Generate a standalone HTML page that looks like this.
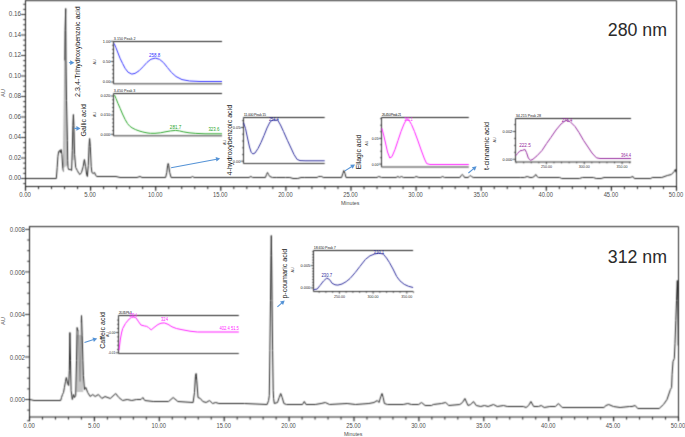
<!DOCTYPE html>
<html><head><meta charset="utf-8"><title>HPLC chromatograms</title>
<style>html,body{margin:0;padding:0;background:#fff;width:685px;height:437px;overflow:hidden;font-family:"Liberation Sans",sans-serif}</style>
</head><body>
<svg width="685" height="437" viewBox="0 0 685 437" style="position:absolute;left:0;top:0">
<defs><filter id="soft" x="0" y="0" width="685" height="437" filterUnits="userSpaceOnUse" color-interpolation-filters="sRGB"><feConvolveMatrix order="3" kernelMatrix="0.03607 0.11778 0.03607 0.11778 0.38462 0.11778 0.03607 0.11778 0.03607" divisor="1" edgeMode="none"/></filter><filter id="soft2" x="0" y="0" width="685" height="437" filterUnits="userSpaceOnUse" color-interpolation-filters="sRGB"><feConvolveMatrix order="3" kernelMatrix="0.01917 0.10012 0.01917 0.10012 0.52283 0.10012 0.01917 0.10012 0.01917" divisor="1" edgeMode="none"/></filter></defs>
<rect width="685" height="437" fill="#fff"/>
<g filter="url(#soft)">
<line x1="25.50" y1="0.60" x2="676.50" y2="0.60" stroke="#1c1c1c" stroke-width="1.00"/>
<line x1="676.50" y1="0.60" x2="676.50" y2="190.50" stroke="#262626" stroke-width="1.00"/>
<line x1="25.50" y1="0.10" x2="25.50" y2="190.50" stroke="#1c1c1c" stroke-width="1.00"/>
<line x1="25.50" y1="186.50" x2="676.50" y2="186.50" stroke="#1c1c1c" stroke-width="1.00"/>
<line x1="23.20" y1="183.62" x2="25.50" y2="183.62" stroke="#1c1c1c" stroke-width="0.90"/>
<line x1="23.20" y1="173.38" x2="25.50" y2="173.38" stroke="#1c1c1c" stroke-width="0.90"/>
<line x1="23.20" y1="168.25" x2="25.50" y2="168.25" stroke="#1c1c1c" stroke-width="0.90"/>
<line x1="23.20" y1="163.12" x2="25.50" y2="163.12" stroke="#1c1c1c" stroke-width="0.90"/>
<line x1="23.20" y1="152.88" x2="25.50" y2="152.88" stroke="#1c1c1c" stroke-width="0.90"/>
<line x1="23.20" y1="147.75" x2="25.50" y2="147.75" stroke="#1c1c1c" stroke-width="0.90"/>
<line x1="23.20" y1="142.62" x2="25.50" y2="142.62" stroke="#1c1c1c" stroke-width="0.90"/>
<line x1="23.20" y1="132.38" x2="25.50" y2="132.38" stroke="#1c1c1c" stroke-width="0.90"/>
<line x1="23.20" y1="127.25" x2="25.50" y2="127.25" stroke="#1c1c1c" stroke-width="0.90"/>
<line x1="23.20" y1="122.12" x2="25.50" y2="122.12" stroke="#1c1c1c" stroke-width="0.90"/>
<line x1="23.20" y1="111.88" x2="25.50" y2="111.88" stroke="#1c1c1c" stroke-width="0.90"/>
<line x1="23.20" y1="106.75" x2="25.50" y2="106.75" stroke="#1c1c1c" stroke-width="0.90"/>
<line x1="23.20" y1="101.62" x2="25.50" y2="101.62" stroke="#1c1c1c" stroke-width="0.90"/>
<line x1="23.20" y1="91.38" x2="25.50" y2="91.38" stroke="#1c1c1c" stroke-width="0.90"/>
<line x1="23.20" y1="86.25" x2="25.50" y2="86.25" stroke="#1c1c1c" stroke-width="0.90"/>
<line x1="23.20" y1="81.12" x2="25.50" y2="81.12" stroke="#1c1c1c" stroke-width="0.90"/>
<line x1="23.20" y1="70.88" x2="25.50" y2="70.88" stroke="#1c1c1c" stroke-width="0.90"/>
<line x1="23.20" y1="65.75" x2="25.50" y2="65.75" stroke="#1c1c1c" stroke-width="0.90"/>
<line x1="23.20" y1="60.62" x2="25.50" y2="60.62" stroke="#1c1c1c" stroke-width="0.90"/>
<line x1="23.20" y1="50.38" x2="25.50" y2="50.38" stroke="#1c1c1c" stroke-width="0.90"/>
<line x1="23.20" y1="45.25" x2="25.50" y2="45.25" stroke="#1c1c1c" stroke-width="0.90"/>
<line x1="23.20" y1="40.12" x2="25.50" y2="40.12" stroke="#1c1c1c" stroke-width="0.90"/>
<line x1="23.20" y1="29.88" x2="25.50" y2="29.88" stroke="#1c1c1c" stroke-width="0.90"/>
<line x1="23.20" y1="24.75" x2="25.50" y2="24.75" stroke="#1c1c1c" stroke-width="0.90"/>
<line x1="23.20" y1="19.62" x2="25.50" y2="19.62" stroke="#1c1c1c" stroke-width="0.90"/>
<line x1="23.20" y1="9.38" x2="25.50" y2="9.38" stroke="#1c1c1c" stroke-width="0.90"/>
<line x1="23.20" y1="4.25" x2="25.50" y2="4.25" stroke="#1c1c1c" stroke-width="0.90"/>
<line x1="20.90" y1="178.50" x2="25.50" y2="178.50" stroke="#1c1c1c" stroke-width="0.90"/>
<line x1="20.90" y1="158.00" x2="25.50" y2="158.00" stroke="#1c1c1c" stroke-width="0.90"/>
<line x1="20.90" y1="137.50" x2="25.50" y2="137.50" stroke="#1c1c1c" stroke-width="0.90"/>
<line x1="20.90" y1="117.00" x2="25.50" y2="117.00" stroke="#1c1c1c" stroke-width="0.90"/>
<line x1="20.90" y1="96.50" x2="25.50" y2="96.50" stroke="#1c1c1c" stroke-width="0.90"/>
<line x1="20.90" y1="76.00" x2="25.50" y2="76.00" stroke="#1c1c1c" stroke-width="0.90"/>
<line x1="20.90" y1="55.50" x2="25.50" y2="55.50" stroke="#1c1c1c" stroke-width="0.90"/>
<line x1="20.90" y1="35.00" x2="25.50" y2="35.00" stroke="#1c1c1c" stroke-width="0.90"/>
<line x1="20.90" y1="14.50" x2="25.50" y2="14.50" stroke="#1c1c1c" stroke-width="0.90"/>
<line x1="25.50" y1="186.50" x2="25.50" y2="190.70" stroke="#111" stroke-width="1.10"/>
<line x1="38.52" y1="186.50" x2="38.52" y2="189.10" stroke="#222" stroke-width="1.00"/>
<line x1="51.54" y1="186.50" x2="51.54" y2="189.10" stroke="#222" stroke-width="1.00"/>
<line x1="64.56" y1="186.50" x2="64.56" y2="189.10" stroke="#222" stroke-width="1.00"/>
<line x1="77.58" y1="186.50" x2="77.58" y2="189.10" stroke="#222" stroke-width="1.00"/>
<line x1="90.60" y1="186.50" x2="90.60" y2="190.70" stroke="#111" stroke-width="1.10"/>
<line x1="103.62" y1="186.50" x2="103.62" y2="189.10" stroke="#222" stroke-width="1.00"/>
<line x1="116.64" y1="186.50" x2="116.64" y2="189.10" stroke="#222" stroke-width="1.00"/>
<line x1="129.66" y1="186.50" x2="129.66" y2="189.10" stroke="#222" stroke-width="1.00"/>
<line x1="142.68" y1="186.50" x2="142.68" y2="189.10" stroke="#222" stroke-width="1.00"/>
<line x1="155.70" y1="186.50" x2="155.70" y2="190.70" stroke="#111" stroke-width="1.10"/>
<line x1="168.72" y1="186.50" x2="168.72" y2="189.10" stroke="#222" stroke-width="1.00"/>
<line x1="181.74" y1="186.50" x2="181.74" y2="189.10" stroke="#222" stroke-width="1.00"/>
<line x1="194.76" y1="186.50" x2="194.76" y2="189.10" stroke="#222" stroke-width="1.00"/>
<line x1="207.78" y1="186.50" x2="207.78" y2="189.10" stroke="#222" stroke-width="1.00"/>
<line x1="220.80" y1="186.50" x2="220.80" y2="190.70" stroke="#111" stroke-width="1.10"/>
<line x1="233.82" y1="186.50" x2="233.82" y2="189.10" stroke="#222" stroke-width="1.00"/>
<line x1="246.84" y1="186.50" x2="246.84" y2="189.10" stroke="#222" stroke-width="1.00"/>
<line x1="259.86" y1="186.50" x2="259.86" y2="189.10" stroke="#222" stroke-width="1.00"/>
<line x1="272.88" y1="186.50" x2="272.88" y2="189.10" stroke="#222" stroke-width="1.00"/>
<line x1="285.90" y1="186.50" x2="285.90" y2="190.70" stroke="#111" stroke-width="1.10"/>
<line x1="298.92" y1="186.50" x2="298.92" y2="189.10" stroke="#222" stroke-width="1.00"/>
<line x1="311.94" y1="186.50" x2="311.94" y2="189.10" stroke="#222" stroke-width="1.00"/>
<line x1="324.96" y1="186.50" x2="324.96" y2="189.10" stroke="#222" stroke-width="1.00"/>
<line x1="337.98" y1="186.50" x2="337.98" y2="189.10" stroke="#222" stroke-width="1.00"/>
<line x1="351.00" y1="186.50" x2="351.00" y2="190.70" stroke="#111" stroke-width="1.10"/>
<line x1="364.02" y1="186.50" x2="364.02" y2="189.10" stroke="#222" stroke-width="1.00"/>
<line x1="377.04" y1="186.50" x2="377.04" y2="189.10" stroke="#222" stroke-width="1.00"/>
<line x1="390.06" y1="186.50" x2="390.06" y2="189.10" stroke="#222" stroke-width="1.00"/>
<line x1="403.08" y1="186.50" x2="403.08" y2="189.10" stroke="#222" stroke-width="1.00"/>
<line x1="416.10" y1="186.50" x2="416.10" y2="190.70" stroke="#111" stroke-width="1.10"/>
<line x1="429.12" y1="186.50" x2="429.12" y2="189.10" stroke="#222" stroke-width="1.00"/>
<line x1="442.14" y1="186.50" x2="442.14" y2="189.10" stroke="#222" stroke-width="1.00"/>
<line x1="455.16" y1="186.50" x2="455.16" y2="189.10" stroke="#222" stroke-width="1.00"/>
<line x1="468.18" y1="186.50" x2="468.18" y2="189.10" stroke="#222" stroke-width="1.00"/>
<line x1="481.20" y1="186.50" x2="481.20" y2="190.70" stroke="#111" stroke-width="1.10"/>
<line x1="494.22" y1="186.50" x2="494.22" y2="189.10" stroke="#222" stroke-width="1.00"/>
<line x1="507.24" y1="186.50" x2="507.24" y2="189.10" stroke="#222" stroke-width="1.00"/>
<line x1="520.26" y1="186.50" x2="520.26" y2="189.10" stroke="#222" stroke-width="1.00"/>
<line x1="533.28" y1="186.50" x2="533.28" y2="189.10" stroke="#222" stroke-width="1.00"/>
<line x1="546.30" y1="186.50" x2="546.30" y2="190.70" stroke="#111" stroke-width="1.10"/>
<line x1="559.32" y1="186.50" x2="559.32" y2="189.10" stroke="#222" stroke-width="1.00"/>
<line x1="572.34" y1="186.50" x2="572.34" y2="189.10" stroke="#222" stroke-width="1.00"/>
<line x1="585.36" y1="186.50" x2="585.36" y2="189.10" stroke="#222" stroke-width="1.00"/>
<line x1="598.38" y1="186.50" x2="598.38" y2="189.10" stroke="#222" stroke-width="1.00"/>
<line x1="611.40" y1="186.50" x2="611.40" y2="190.70" stroke="#111" stroke-width="1.10"/>
<line x1="624.42" y1="186.50" x2="624.42" y2="189.10" stroke="#222" stroke-width="1.00"/>
<line x1="637.44" y1="186.50" x2="637.44" y2="189.10" stroke="#222" stroke-width="1.00"/>
<line x1="650.46" y1="186.50" x2="650.46" y2="189.10" stroke="#222" stroke-width="1.00"/>
<line x1="663.48" y1="186.50" x2="663.48" y2="189.10" stroke="#222" stroke-width="1.00"/>
<line x1="676.50" y1="186.50" x2="676.50" y2="190.70" stroke="#111" stroke-width="1.10"/>
<polygon points="63.6,168 63.8,140 64.3,100 64.8,60 66.0,60 66.5,100 67.4,140 67.7,165" fill="#c8c8c8"/>
<polygon points="72.4,160 72.8,132 74.2,132 74.6,160" fill="#dcdcdc"/>
<polyline points="25.5,178.5 56.3,178.5 57.2,167.5 57.9,156.5 58.7,151.5 59.5,150.5 60.4,152.5 61.1,149.5 61.9,154.5 62.8,168.5 63.5,171.5" fill="none" stroke="#1e1e1e" stroke-width="1.0" stroke-linejoin="round"/>
<polyline points="63.5,171.5 63.8,140.5 64.3,100.5 64.8,60.5" fill="none" stroke="#9a9a9a" stroke-width="0.8" stroke-linejoin="round"/>
<polyline points="64.8,60.5 65.1,30.5 65.7,8.5 65.8,30.5 66.0,60.5 66.5,100.5 67.4,140.5 67.7,160.5 68.0,167.5 68.7,169.5 70.3,169.5 71.6,170.5 72.3,150.5 72.9,125.5 73.4,114.5 73.9,125.5 74.6,154.5 75.7,167.5 77.3,170.5 78.9,173.5 80.0,174.5 81.5,172.5 83.2,166.5 84.4,159.5 85.6,166.5 86.6,174.5 87.4,176.5 88.3,165.5 89.0,146.5 89.6,138.5 90.3,146.5 91.2,166.5 91.9,172.5 93.2,173.5 94.6,172.5 95.7,175.5 97.0,176.5 100.0,176.5 105.0,176.5 110.0,176.5 114.0,176.5 116.0,176.5 120.0,177.5 130.0,177.5 137.0,177.5 140.0,176.5 142.0,177.5 150.0,177.5 160.0,177.5 165.6,177.5 166.8,172.5 167.6,165.5 168.2,163.5 168.8,165.5 169.7,172.5 171.1,177.5 180.0,177.5 191.0,177.5 192.5,176.5 194.0,177.5 230.0,177.5 249.0,177.5 250.9,176.5 252.6,177.5 265.4,177.5 266.5,174.5 267.5,172.5 268.5,174.5 269.8,176.5 272.4,177.5 276.8,177.5 280.0,177.5 285.5,177.5 289.9,177.5 293.0,178.5 297.8,178.5 301.0,177.5 304.8,177.5 317.1,177.5 318.7,176.5 320.2,176.5 321.8,176.5 323.2,177.5 341.6,177.5 342.8,173.5 343.9,170.5 345.0,173.5 346.0,177.5 375.1,177.5 377.0,177.5 378.7,176.5 381.5,177.5 396.1,177.5 397.9,176.5 399.4,177.5 401.5,176.5 403.4,177.5 414.3,177.5 416.1,176.5 418.9,177.5 440.8,177.5 442.6,176.5 444.4,177.5 459.9,177.5 461.2,175.5 462.3,174.5 463.4,175.5 464.5,177.5 468.1,177.5 469.3,176.5 470.3,175.5 471.5,176.5 473.2,177.5 520.3,177.5 524.3,177.5 527.2,176.5 530.0,177.5 532.2,177.5 534.3,176.5 535.7,174.5 537.1,176.5 538.5,177.5 559.7,177.5 561.7,178.5 579.5,178.5 582.4,177.5 593.3,177.5 596.2,178.5 601.1,178.5 604.0,177.5 630.2,177.5 633.0,176.5 634.3,178.5 650.8,178.5 652.2,177.5 661.8,177.5 667.3,175.5 671.4,174.5 674.2,171.5 675.3,169.5 676.2,172.5" fill="none" stroke="#1e1e1e" stroke-width="1.0" stroke-linejoin="round"/>
<line x1="113.50" y1="41.50" x2="222.00" y2="41.50" stroke="#1a1a1a" stroke-width="1.00"/>
<line x1="113.50" y1="41.50" x2="113.50" y2="83.80" stroke="#333333" stroke-width="1.00"/>
<line x1="113.50" y1="83.80" x2="222.00" y2="83.80" stroke="#333333" stroke-width="1.00"/>
<line x1="112.20" y1="45.30" x2="113.50" y2="45.30" stroke="#111" stroke-width="0.80"/>
<line x1="112.20" y1="49.40" x2="113.50" y2="49.40" stroke="#111" stroke-width="0.80"/>
<line x1="112.20" y1="53.50" x2="113.50" y2="53.50" stroke="#111" stroke-width="0.80"/>
<line x1="112.20" y1="57.50" x2="113.50" y2="57.50" stroke="#111" stroke-width="0.80"/>
<line x1="112.20" y1="65.60" x2="113.50" y2="65.60" stroke="#111" stroke-width="0.80"/>
<line x1="112.20" y1="69.70" x2="113.50" y2="69.70" stroke="#111" stroke-width="0.80"/>
<line x1="112.20" y1="73.80" x2="113.50" y2="73.80" stroke="#111" stroke-width="0.80"/>
<line x1="112.20" y1="77.90" x2="113.50" y2="77.90" stroke="#111" stroke-width="0.80"/>
<line x1="110.50" y1="41.30" x2="113.50" y2="41.30" stroke="#222" stroke-width="0.80"/>
<line x1="110.50" y1="61.50" x2="113.50" y2="61.50" stroke="#222" stroke-width="0.80"/>
<line x1="110.50" y1="82.00" x2="113.50" y2="82.00" stroke="#222" stroke-width="0.80"/>
<line x1="113.50" y1="93.50" x2="222.00" y2="93.50" stroke="#1a1a1a" stroke-width="1.00"/>
<line x1="113.50" y1="93.50" x2="113.50" y2="135.80" stroke="#333333" stroke-width="1.00"/>
<line x1="113.50" y1="135.80" x2="222.00" y2="135.80" stroke="#333333" stroke-width="1.00"/>
<line x1="112.20" y1="99.80" x2="113.50" y2="99.80" stroke="#111" stroke-width="0.80"/>
<line x1="112.20" y1="103.70" x2="113.50" y2="103.70" stroke="#111" stroke-width="0.80"/>
<line x1="112.20" y1="107.50" x2="113.50" y2="107.50" stroke="#111" stroke-width="0.80"/>
<line x1="112.20" y1="111.40" x2="113.50" y2="111.40" stroke="#111" stroke-width="0.80"/>
<line x1="112.20" y1="119.00" x2="113.50" y2="119.00" stroke="#111" stroke-width="0.80"/>
<line x1="112.20" y1="122.90" x2="113.50" y2="122.90" stroke="#111" stroke-width="0.80"/>
<line x1="112.20" y1="126.70" x2="113.50" y2="126.70" stroke="#111" stroke-width="0.80"/>
<line x1="112.20" y1="130.60" x2="113.50" y2="130.60" stroke="#111" stroke-width="0.80"/>
<line x1="110.50" y1="96.00" x2="113.50" y2="96.00" stroke="#222" stroke-width="0.80"/>
<line x1="110.50" y1="115.00" x2="113.50" y2="115.00" stroke="#222" stroke-width="0.80"/>
<line x1="110.50" y1="134.30" x2="113.50" y2="134.30" stroke="#222" stroke-width="0.80"/>
<line x1="243.50" y1="117.50" x2="324.70" y2="117.50" stroke="#1a1a1a" stroke-width="1.00"/>
<line x1="243.50" y1="117.50" x2="243.50" y2="163.50" stroke="#333333" stroke-width="1.00"/>
<line x1="243.50" y1="163.50" x2="324.70" y2="163.50" stroke="#333333" stroke-width="1.00"/>
<line x1="242.20" y1="120.60" x2="243.50" y2="120.60" stroke="#111" stroke-width="0.80"/>
<line x1="242.20" y1="134.20" x2="243.50" y2="134.20" stroke="#111" stroke-width="0.80"/>
<line x1="242.20" y1="141.00" x2="243.50" y2="141.00" stroke="#111" stroke-width="0.80"/>
<line x1="242.20" y1="147.80" x2="243.50" y2="147.80" stroke="#111" stroke-width="0.80"/>
<line x1="242.20" y1="154.60" x2="243.50" y2="154.60" stroke="#111" stroke-width="0.80"/>
<line x1="240.50" y1="127.50" x2="243.50" y2="127.50" stroke="#222" stroke-width="0.80"/>
<line x1="240.50" y1="161.20" x2="243.50" y2="161.20" stroke="#222" stroke-width="0.80"/>
<line x1="381.50" y1="117.50" x2="468.80" y2="117.50" stroke="#1a1a1a" stroke-width="1.00"/>
<line x1="381.50" y1="117.50" x2="381.50" y2="167.00" stroke="#333333" stroke-width="1.00"/>
<line x1="381.50" y1="167.00" x2="468.80" y2="167.00" stroke="#333333" stroke-width="1.00"/>
<line x1="380.20" y1="118.60" x2="381.50" y2="118.60" stroke="#111" stroke-width="0.80"/>
<line x1="380.20" y1="125.20" x2="381.50" y2="125.20" stroke="#111" stroke-width="0.80"/>
<line x1="380.20" y1="131.70" x2="381.50" y2="131.70" stroke="#111" stroke-width="0.80"/>
<line x1="380.20" y1="144.70" x2="381.50" y2="144.70" stroke="#111" stroke-width="0.80"/>
<line x1="380.20" y1="151.20" x2="381.50" y2="151.20" stroke="#111" stroke-width="0.80"/>
<line x1="380.20" y1="157.70" x2="381.50" y2="157.70" stroke="#111" stroke-width="0.80"/>
<line x1="378.50" y1="138.40" x2="381.50" y2="138.40" stroke="#222" stroke-width="0.80"/>
<line x1="378.50" y1="164.10" x2="381.50" y2="164.10" stroke="#222" stroke-width="0.80"/>
<line x1="515.50" y1="118.50" x2="631.00" y2="118.50" stroke="#1a1a1a" stroke-width="1.00"/>
<line x1="515.50" y1="118.50" x2="515.50" y2="162.00" stroke="#333333" stroke-width="1.00"/>
<line x1="515.50" y1="162.00" x2="631.00" y2="162.00" stroke="#333333" stroke-width="1.00"/>
<line x1="514.20" y1="124.60" x2="515.50" y2="124.60" stroke="#111" stroke-width="0.80"/>
<line x1="514.20" y1="138.40" x2="515.50" y2="138.40" stroke="#111" stroke-width="0.80"/>
<line x1="514.20" y1="145.40" x2="515.50" y2="145.40" stroke="#111" stroke-width="0.80"/>
<line x1="514.20" y1="152.30" x2="515.50" y2="152.30" stroke="#111" stroke-width="0.80"/>
<line x1="512.50" y1="131.50" x2="515.50" y2="131.50" stroke="#222" stroke-width="0.80"/>
<line x1="512.50" y1="159.30" x2="515.50" y2="159.30" stroke="#222" stroke-width="0.80"/>
<line x1="516.12" y1="162.00" x2="516.12" y2="163.30" stroke="#222" stroke-width="0.80"/>
<line x1="523.69" y1="162.00" x2="523.69" y2="163.30" stroke="#222" stroke-width="0.80"/>
<line x1="531.26" y1="162.00" x2="531.26" y2="163.30" stroke="#222" stroke-width="0.80"/>
<line x1="538.83" y1="162.00" x2="538.83" y2="163.30" stroke="#222" stroke-width="0.80"/>
<line x1="546.40" y1="162.00" x2="546.40" y2="164.20" stroke="#222" stroke-width="0.80"/>
<line x1="553.97" y1="162.00" x2="553.97" y2="163.30" stroke="#222" stroke-width="0.80"/>
<line x1="561.54" y1="162.00" x2="561.54" y2="163.30" stroke="#222" stroke-width="0.80"/>
<line x1="569.11" y1="162.00" x2="569.11" y2="163.30" stroke="#222" stroke-width="0.80"/>
<line x1="576.68" y1="162.00" x2="576.68" y2="163.30" stroke="#222" stroke-width="0.80"/>
<line x1="584.25" y1="162.00" x2="584.25" y2="164.20" stroke="#222" stroke-width="0.80"/>
<line x1="591.82" y1="162.00" x2="591.82" y2="163.30" stroke="#222" stroke-width="0.80"/>
<line x1="599.39" y1="162.00" x2="599.39" y2="163.30" stroke="#222" stroke-width="0.80"/>
<line x1="606.96" y1="162.00" x2="606.96" y2="163.30" stroke="#222" stroke-width="0.80"/>
<line x1="614.53" y1="162.00" x2="614.53" y2="163.30" stroke="#222" stroke-width="0.80"/>
<line x1="622.10" y1="162.00" x2="622.10" y2="164.20" stroke="#222" stroke-width="0.80"/>
<line x1="629.67" y1="162.00" x2="629.67" y2="163.30" stroke="#222" stroke-width="0.80"/>
<line x1="29.50" y1="226.60" x2="678.50" y2="226.60" stroke="#1c1c1c" stroke-width="1.00"/>
<line x1="678.50" y1="226.60" x2="678.50" y2="421.00" stroke="#262626" stroke-width="1.00"/>
<line x1="29.50" y1="226.10" x2="29.50" y2="421.00" stroke="#1c1c1c" stroke-width="1.00"/>
<line x1="29.50" y1="417.00" x2="678.50" y2="417.00" stroke="#1c1c1c" stroke-width="1.00"/>
<line x1="27.20" y1="420.76" x2="29.50" y2="420.76" stroke="#1c1c1c" stroke-width="0.90"/>
<line x1="27.20" y1="410.13" x2="29.50" y2="410.13" stroke="#1c1c1c" stroke-width="0.90"/>
<line x1="27.20" y1="388.87" x2="29.50" y2="388.87" stroke="#1c1c1c" stroke-width="0.90"/>
<line x1="27.20" y1="378.24" x2="29.50" y2="378.24" stroke="#1c1c1c" stroke-width="0.90"/>
<line x1="27.20" y1="367.61" x2="29.50" y2="367.61" stroke="#1c1c1c" stroke-width="0.90"/>
<line x1="27.20" y1="346.34" x2="29.50" y2="346.34" stroke="#1c1c1c" stroke-width="0.90"/>
<line x1="27.20" y1="335.71" x2="29.50" y2="335.71" stroke="#1c1c1c" stroke-width="0.90"/>
<line x1="27.20" y1="325.08" x2="29.50" y2="325.08" stroke="#1c1c1c" stroke-width="0.90"/>
<line x1="27.20" y1="303.82" x2="29.50" y2="303.82" stroke="#1c1c1c" stroke-width="0.90"/>
<line x1="27.20" y1="293.19" x2="29.50" y2="293.19" stroke="#1c1c1c" stroke-width="0.90"/>
<line x1="27.20" y1="282.55" x2="29.50" y2="282.55" stroke="#1c1c1c" stroke-width="0.90"/>
<line x1="27.20" y1="261.29" x2="29.50" y2="261.29" stroke="#1c1c1c" stroke-width="0.90"/>
<line x1="27.20" y1="250.66" x2="29.50" y2="250.66" stroke="#1c1c1c" stroke-width="0.90"/>
<line x1="27.20" y1="240.03" x2="29.50" y2="240.03" stroke="#1c1c1c" stroke-width="0.90"/>
<line x1="24.90" y1="399.50" x2="29.50" y2="399.50" stroke="#1c1c1c" stroke-width="0.90"/>
<line x1="24.90" y1="356.97" x2="29.50" y2="356.97" stroke="#1c1c1c" stroke-width="0.90"/>
<line x1="24.90" y1="314.45" x2="29.50" y2="314.45" stroke="#1c1c1c" stroke-width="0.90"/>
<line x1="24.90" y1="271.92" x2="29.50" y2="271.92" stroke="#1c1c1c" stroke-width="0.90"/>
<line x1="24.90" y1="229.40" x2="29.50" y2="229.40" stroke="#1c1c1c" stroke-width="0.90"/>
<line x1="29.50" y1="417.00" x2="29.50" y2="421.20" stroke="#111" stroke-width="1.10"/>
<line x1="42.48" y1="417.00" x2="42.48" y2="419.60" stroke="#222" stroke-width="1.00"/>
<line x1="55.46" y1="417.00" x2="55.46" y2="419.60" stroke="#222" stroke-width="1.00"/>
<line x1="68.44" y1="417.00" x2="68.44" y2="419.60" stroke="#222" stroke-width="1.00"/>
<line x1="81.42" y1="417.00" x2="81.42" y2="419.60" stroke="#222" stroke-width="1.00"/>
<line x1="94.40" y1="417.00" x2="94.40" y2="421.20" stroke="#111" stroke-width="1.10"/>
<line x1="107.38" y1="417.00" x2="107.38" y2="419.60" stroke="#222" stroke-width="1.00"/>
<line x1="120.36" y1="417.00" x2="120.36" y2="419.60" stroke="#222" stroke-width="1.00"/>
<line x1="133.34" y1="417.00" x2="133.34" y2="419.60" stroke="#222" stroke-width="1.00"/>
<line x1="146.32" y1="417.00" x2="146.32" y2="419.60" stroke="#222" stroke-width="1.00"/>
<line x1="159.30" y1="417.00" x2="159.30" y2="421.20" stroke="#111" stroke-width="1.10"/>
<line x1="172.28" y1="417.00" x2="172.28" y2="419.60" stroke="#222" stroke-width="1.00"/>
<line x1="185.26" y1="417.00" x2="185.26" y2="419.60" stroke="#222" stroke-width="1.00"/>
<line x1="198.24" y1="417.00" x2="198.24" y2="419.60" stroke="#222" stroke-width="1.00"/>
<line x1="211.22" y1="417.00" x2="211.22" y2="419.60" stroke="#222" stroke-width="1.00"/>
<line x1="224.20" y1="417.00" x2="224.20" y2="421.20" stroke="#111" stroke-width="1.10"/>
<line x1="237.18" y1="417.00" x2="237.18" y2="419.60" stroke="#222" stroke-width="1.00"/>
<line x1="250.16" y1="417.00" x2="250.16" y2="419.60" stroke="#222" stroke-width="1.00"/>
<line x1="263.14" y1="417.00" x2="263.14" y2="419.60" stroke="#222" stroke-width="1.00"/>
<line x1="276.12" y1="417.00" x2="276.12" y2="419.60" stroke="#222" stroke-width="1.00"/>
<line x1="289.10" y1="417.00" x2="289.10" y2="421.20" stroke="#111" stroke-width="1.10"/>
<line x1="302.08" y1="417.00" x2="302.08" y2="419.60" stroke="#222" stroke-width="1.00"/>
<line x1="315.06" y1="417.00" x2="315.06" y2="419.60" stroke="#222" stroke-width="1.00"/>
<line x1="328.04" y1="417.00" x2="328.04" y2="419.60" stroke="#222" stroke-width="1.00"/>
<line x1="341.02" y1="417.00" x2="341.02" y2="419.60" stroke="#222" stroke-width="1.00"/>
<line x1="354.00" y1="417.00" x2="354.00" y2="421.20" stroke="#111" stroke-width="1.10"/>
<line x1="366.98" y1="417.00" x2="366.98" y2="419.60" stroke="#222" stroke-width="1.00"/>
<line x1="379.96" y1="417.00" x2="379.96" y2="419.60" stroke="#222" stroke-width="1.00"/>
<line x1="392.94" y1="417.00" x2="392.94" y2="419.60" stroke="#222" stroke-width="1.00"/>
<line x1="405.92" y1="417.00" x2="405.92" y2="419.60" stroke="#222" stroke-width="1.00"/>
<line x1="418.90" y1="417.00" x2="418.90" y2="421.20" stroke="#111" stroke-width="1.10"/>
<line x1="431.88" y1="417.00" x2="431.88" y2="419.60" stroke="#222" stroke-width="1.00"/>
<line x1="444.86" y1="417.00" x2="444.86" y2="419.60" stroke="#222" stroke-width="1.00"/>
<line x1="457.84" y1="417.00" x2="457.84" y2="419.60" stroke="#222" stroke-width="1.00"/>
<line x1="470.82" y1="417.00" x2="470.82" y2="419.60" stroke="#222" stroke-width="1.00"/>
<line x1="483.80" y1="417.00" x2="483.80" y2="421.20" stroke="#111" stroke-width="1.10"/>
<line x1="496.78" y1="417.00" x2="496.78" y2="419.60" stroke="#222" stroke-width="1.00"/>
<line x1="509.76" y1="417.00" x2="509.76" y2="419.60" stroke="#222" stroke-width="1.00"/>
<line x1="522.74" y1="417.00" x2="522.74" y2="419.60" stroke="#222" stroke-width="1.00"/>
<line x1="535.72" y1="417.00" x2="535.72" y2="419.60" stroke="#222" stroke-width="1.00"/>
<line x1="548.70" y1="417.00" x2="548.70" y2="421.20" stroke="#111" stroke-width="1.10"/>
<line x1="561.68" y1="417.00" x2="561.68" y2="419.60" stroke="#222" stroke-width="1.00"/>
<line x1="574.66" y1="417.00" x2="574.66" y2="419.60" stroke="#222" stroke-width="1.00"/>
<line x1="587.64" y1="417.00" x2="587.64" y2="419.60" stroke="#222" stroke-width="1.00"/>
<line x1="600.62" y1="417.00" x2="600.62" y2="419.60" stroke="#222" stroke-width="1.00"/>
<line x1="613.60" y1="417.00" x2="613.60" y2="421.20" stroke="#111" stroke-width="1.10"/>
<line x1="626.58" y1="417.00" x2="626.58" y2="419.60" stroke="#222" stroke-width="1.00"/>
<line x1="639.56" y1="417.00" x2="639.56" y2="419.60" stroke="#222" stroke-width="1.00"/>
<line x1="652.54" y1="417.00" x2="652.54" y2="419.60" stroke="#222" stroke-width="1.00"/>
<line x1="665.52" y1="417.00" x2="665.52" y2="419.60" stroke="#222" stroke-width="1.00"/>
<line x1="678.50" y1="417.00" x2="678.50" y2="421.20" stroke="#111" stroke-width="1.10"/>
<polygon points="76.5,392 76.9,335 82.3,335 83.3,392" fill="#c6c6c6"/>
<polyline points="29.8,399.5 34.0,400.5 47.0,400.5 50.0,400.5 56.0,400.5 60.7,400.5 61.5,397.5 62.5,394.5 63.5,392.5 64.4,387.5 65.5,381.5 66.3,377.5 67.6,383.5 68.6,385.5 69.3,370.5 69.9,332.5 70.5,360.5 71.1,390.5 72.3,399.5 73.6,394.5 74.5,397.5 75.7,395.5 76.5,360.5 77.1,327.5 77.8,330.5 78.4,330.5" fill="none" stroke="#1e1e1e" stroke-width="1.0" stroke-linejoin="round"/>
<polyline points="78.4,330.5 79.2,360.5 80.1,381.5 80.8,345.5 81.3,322.5" fill="none" stroke="#8a8a8a" stroke-width="0.9" stroke-linejoin="round"/>
<polyline points="81.3,322.5 81.5,315.5 82.2,335.5 82.9,360.5 83.4,375.5 84.5,389.5 85.8,387.5 87.7,392.5 90.2,396.5 92.7,394.5 95.2,396.5 98.4,394.5 101.9,398.5 105.0,396.5 110.3,398.5 115.7,393.5 118.8,397.5 122.6,400.5 127.2,399.5 131.8,400.5 136.4,399.5 141.0,399.5 142.8,397.5 144.8,400.5 153.2,401.5 168.6,401.5 173.2,397.5 177.8,401.5 193.1,402.5 194.5,392.5 195.4,376.5 196.1,373.5 196.8,380.5 198.0,397.5 200.4,398.5 202.8,401.5 206.1,402.5 209.6,400.5 212.5,403.5 215.7,402.5 218.9,403.5 244.6,403.5 267.1,404.5 268.6,400.5 269.3,395.5 269.9,350.5 270.5,300.5 271.0,255.5 271.3,235.5 271.6,255.5 272.1,300.5 272.6,350.5 273.2,390.5 273.6,398.5 274.3,403.5 277.5,402.5 279.2,397.5 280.7,393.5 282.2,397.5 283.9,403.5 286.4,404.5 302.5,404.5 304.3,401.5 306.0,404.5 315.2,404.5 321.1,403.5 325.3,402.5 329.5,404.5 347.1,403.5 355.5,404.5 368.9,403.5 374.0,402.5 377.3,400.5 379.0,402.5 380.8,396.5 382.0,393.5 383.2,397.5 384.4,403.5 387.4,404.5 403.2,404.5 407.8,403.5 411.4,404.5 418.7,404.5 421.5,402.5 425.1,405.5 431.5,405.5 433.3,404.5 441.5,403.5 445.7,402.5 448.8,405.5 459.8,404.5 462.5,402.5 464.9,398.5 468.0,405.5 470.7,404.5 473.5,401.5 476.2,405.5 480.8,406.5 484.4,405.5 488.1,406.5 493.5,404.5 497.2,406.5 503.6,405.5 507.2,406.5 523.3,406.5 526.1,407.5 528.6,405.5 530.9,401.5 533.7,406.5 538.5,406.5 541.3,405.5 544.2,407.5 549.8,406.5 555.5,406.5 558.4,403.5 562.2,407.5 603.9,407.5 606.0,405.5 608.7,404.5 613.4,406.5 620.1,407.5 629.5,406.5 632.0,406.5 635.2,405.5 637.7,408.5 640.0,408.5 659.2,408.5 663.5,404.5 667.0,399.5 670.4,389.5 671.6,387.5 672.1,374.5 673.0,361.5 674.3,358.5 675.0,343.5 675.8,320.5 676.5,300.5 677.3,280.5 677.9,300.5 678.2,345.5" fill="none" stroke="#1e1e1e" stroke-width="1.0" stroke-linejoin="round"/>
<line x1="118.50" y1="315.50" x2="238.80" y2="315.50" stroke="#1a1a1a" stroke-width="1.00"/>
<line x1="118.50" y1="315.50" x2="118.50" y2="353.50" stroke="#333333" stroke-width="1.00"/>
<line x1="118.50" y1="353.50" x2="238.80" y2="353.50" stroke="#333333" stroke-width="1.00"/>
<line x1="117.20" y1="320.10" x2="118.50" y2="320.10" stroke="#111" stroke-width="0.80"/>
<line x1="117.20" y1="324.30" x2="118.50" y2="324.30" stroke="#111" stroke-width="0.80"/>
<line x1="117.20" y1="328.50" x2="118.50" y2="328.50" stroke="#111" stroke-width="0.80"/>
<line x1="117.20" y1="336.90" x2="118.50" y2="336.90" stroke="#111" stroke-width="0.80"/>
<line x1="117.20" y1="341.10" x2="118.50" y2="341.10" stroke="#111" stroke-width="0.80"/>
<line x1="117.20" y1="345.30" x2="118.50" y2="345.30" stroke="#111" stroke-width="0.80"/>
<line x1="117.20" y1="349.50" x2="118.50" y2="349.50" stroke="#111" stroke-width="0.80"/>
<line x1="115.50" y1="332.50" x2="118.50" y2="332.50" stroke="#222" stroke-width="0.80"/>
<line x1="115.50" y1="352.80" x2="118.50" y2="352.80" stroke="#222" stroke-width="0.80"/>
<line x1="313.50" y1="250.50" x2="413.10" y2="250.50" stroke="#1a1a1a" stroke-width="1.00"/>
<line x1="313.50" y1="250.50" x2="313.50" y2="291.50" stroke="#333333" stroke-width="1.00"/>
<line x1="313.50" y1="291.50" x2="413.10" y2="291.50" stroke="#333333" stroke-width="1.00"/>
<line x1="312.20" y1="251.70" x2="313.50" y2="251.70" stroke="#111" stroke-width="0.80"/>
<line x1="312.20" y1="254.40" x2="313.50" y2="254.40" stroke="#111" stroke-width="0.80"/>
<line x1="312.20" y1="257.20" x2="313.50" y2="257.20" stroke="#111" stroke-width="0.80"/>
<line x1="312.20" y1="260.00" x2="313.50" y2="260.00" stroke="#111" stroke-width="0.80"/>
<line x1="312.20" y1="262.80" x2="313.50" y2="262.80" stroke="#111" stroke-width="0.80"/>
<line x1="312.20" y1="268.40" x2="313.50" y2="268.40" stroke="#111" stroke-width="0.80"/>
<line x1="312.20" y1="271.20" x2="313.50" y2="271.20" stroke="#111" stroke-width="0.80"/>
<line x1="312.20" y1="274.00" x2="313.50" y2="274.00" stroke="#111" stroke-width="0.80"/>
<line x1="312.20" y1="276.80" x2="313.50" y2="276.80" stroke="#111" stroke-width="0.80"/>
<line x1="312.20" y1="279.60" x2="313.50" y2="279.60" stroke="#111" stroke-width="0.80"/>
<line x1="312.20" y1="282.30" x2="313.50" y2="282.30" stroke="#111" stroke-width="0.80"/>
<line x1="312.20" y1="285.10" x2="313.50" y2="285.10" stroke="#111" stroke-width="0.80"/>
<line x1="310.50" y1="265.60" x2="313.50" y2="265.60" stroke="#222" stroke-width="0.80"/>
<line x1="310.50" y1="287.90" x2="313.50" y2="287.90" stroke="#222" stroke-width="0.80"/>
<line x1="319.18" y1="291.50" x2="319.18" y2="292.80" stroke="#222" stroke-width="0.80"/>
<line x1="325.92" y1="291.50" x2="325.92" y2="292.80" stroke="#222" stroke-width="0.80"/>
<line x1="332.66" y1="291.50" x2="332.66" y2="292.80" stroke="#222" stroke-width="0.80"/>
<line x1="339.40" y1="291.50" x2="339.40" y2="293.70" stroke="#222" stroke-width="0.80"/>
<line x1="346.14" y1="291.50" x2="346.14" y2="292.80" stroke="#222" stroke-width="0.80"/>
<line x1="352.88" y1="291.50" x2="352.88" y2="292.80" stroke="#222" stroke-width="0.80"/>
<line x1="359.62" y1="291.50" x2="359.62" y2="292.80" stroke="#222" stroke-width="0.80"/>
<line x1="366.36" y1="291.50" x2="366.36" y2="292.80" stroke="#222" stroke-width="0.80"/>
<line x1="373.10" y1="291.50" x2="373.10" y2="293.70" stroke="#222" stroke-width="0.80"/>
<line x1="379.84" y1="291.50" x2="379.84" y2="292.80" stroke="#222" stroke-width="0.80"/>
<line x1="386.58" y1="291.50" x2="386.58" y2="292.80" stroke="#222" stroke-width="0.80"/>
<line x1="393.32" y1="291.50" x2="393.32" y2="292.80" stroke="#222" stroke-width="0.80"/>
<line x1="400.06" y1="291.50" x2="400.06" y2="292.80" stroke="#222" stroke-width="0.80"/>
<line x1="406.80" y1="291.50" x2="406.80" y2="293.70" stroke="#222" stroke-width="0.80"/>
<line x1="413.54" y1="291.50" x2="413.54" y2="292.80" stroke="#222" stroke-width="0.80"/>
</g>
<g filter="url(#soft2)">
<polyline points="114.2,43.5 116.0,47.8 118.0,53.0 120.0,58.2 122.6,63.5 125.0,68.2 128.0,72.2 131.8,74.1 135.0,73.4 139.0,70.8 143.0,66.8 147.0,62.4 151.0,59.2 155.4,58.1 159.5,59.3 163.5,62.6 167.5,67.6 171.5,72.5 176.0,76.5 182.0,79.6 189.6,81.0 200.0,81.5 222.0,81.5" fill="none" stroke="#3333ff" stroke-width="1.00" stroke-linejoin="round"/>
<polyline points="114.5,95.0 116.0,98.5 118.0,103.5 120.2,108.5 122.5,114.0 125.2,119.6 127.5,123.6 129.5,125.9 132.0,127.8 135.3,129.5 139.0,130.9 142.9,132.0 147.0,132.9 150.4,133.3 155.0,133.3 160.5,132.8 165.0,131.9 170.6,130.9 175.6,130.4 179.5,130.9 183.2,131.8 189.0,132.8 195.8,133.4 205.0,133.8 222.0,133.8" fill="none" stroke="#28a428" stroke-width="1.00" stroke-linejoin="round"/>
<polyline points="243.5,122.7 245.5,128.5 247.5,138.0 249.5,147.0 251.2,152.3 252.9,154.0 255.0,153.0 258.0,148.5 261.0,142.5 264.0,135.5 267.0,128.0 270.0,122.0 272.2,120.3 277.8,120.3 280.5,125.0 283.5,131.5 287.4,140.3 291.0,148.0 294.0,154.5 297.1,159.4 300.0,160.6 305.0,160.8 324.7,160.8" fill="none" stroke="#2c2c9c" stroke-width="1.00" stroke-linejoin="round"/>
<polyline points="381.8,128.3 383.4,134.0 385.5,143.0 387.5,152.0 389.8,158.0 392.0,156.6 395.0,149.5 398.0,140.5 401.0,131.5 404.0,124.0 406.0,120.3 407.4,119.5 409.0,120.2 411.5,124.5 414.5,131.5 418.0,141.0 421.5,151.0 424.5,159.0 426.7,163.6 430.0,164.5 468.8,164.5" fill="none" stroke="#ff1cff" stroke-width="1.00" stroke-linejoin="round"/>
<polyline points="515.8,155.6 517.5,153.5 520.0,150.8 522.5,150.4 524.9,149.4 526.5,152.5 528.3,158.0 530.5,160.4 533.0,159.2 537.0,155.8 542.0,150.5 546.6,143.5 551.0,137.3 556.0,130.0 561.0,124.0 565.8,120.3 570.0,121.5 575.0,126.5 579.0,132.5 583.5,140.3 588.0,147.0 592.0,153.0 596.4,157.8 600.0,158.5 631.0,158.5" fill="none" stroke="#962a9e" stroke-width="1.00" stroke-linejoin="round"/>
<polyline points="119.0,350.2 120.4,339.0 121.5,333.0 122.7,328.5 125.5,323.4 129.2,319.0 131.4,317.4 133.6,317.1 135.8,317.6 138.7,321.9 140.9,325.0 144.6,326.0 146.5,326.3 148.5,327.5 151.2,329.9 154.0,327.5 158.0,324.5 161.0,323.2 164.3,322.9 168.0,324.3 172.0,326.8 176.4,328.5 182.0,329.7 190.0,331.2 197.5,332.0 238.8,332.0" fill="none" stroke="#ff1cff" stroke-width="1.00" stroke-linejoin="round"/>
<polyline points="313.6,289.6 317.1,289.1 320.1,285.4 323.5,281.0 326.8,278.0 329.5,279.5 332.0,283.2 335.0,284.8 337.9,285.1 342.0,284.0 346.1,281.7 350.0,278.5 355.1,272.7 360.0,266.3 365.5,259.3 370.0,255.8 374.4,254.1 378.9,253.1 383.3,254.1 386.5,258.0 389.3,262.3 393.0,269.0 396.7,276.5 400.0,280.9 404.2,284.3 408.5,286.3 413.1,287.5" fill="none" stroke="#2c2c9c" stroke-width="1.00" stroke-linejoin="round"/>
</g>
<g font-family='"Liberation Sans", sans-serif'>
<text x="21.00" y="180.40" font-size="7.00" fill="#505050" text-anchor="end" lengthAdjust="spacingAndGlyphs" textLength="12.2">0.00</text>
<text x="21.00" y="159.90" font-size="7.00" fill="#505050" text-anchor="end" lengthAdjust="spacingAndGlyphs" textLength="12.2">0.02</text>
<text x="21.00" y="139.40" font-size="7.00" fill="#505050" text-anchor="end" lengthAdjust="spacingAndGlyphs" textLength="12.2">0.04</text>
<text x="21.00" y="118.90" font-size="7.00" fill="#505050" text-anchor="end" lengthAdjust="spacingAndGlyphs" textLength="12.2">0.06</text>
<text x="21.00" y="98.40" font-size="7.00" fill="#505050" text-anchor="end" lengthAdjust="spacingAndGlyphs" textLength="12.2">0.08</text>
<text x="21.00" y="77.90" font-size="7.00" fill="#505050" text-anchor="end" lengthAdjust="spacingAndGlyphs" textLength="12.2">0.10</text>
<text x="21.00" y="57.40" font-size="7.00" fill="#505050" text-anchor="end" lengthAdjust="spacingAndGlyphs" textLength="12.2">0.12</text>
<text x="21.00" y="36.90" font-size="7.00" fill="#505050" text-anchor="end" lengthAdjust="spacingAndGlyphs" textLength="12.2">0.14</text>
<text x="21.00" y="16.40" font-size="7.00" fill="#505050" text-anchor="end" lengthAdjust="spacingAndGlyphs" textLength="12.2">0.16</text>
<text x="25.00" y="197.10" font-size="6.80" fill="#505050" text-anchor="middle" lengthAdjust="spacingAndGlyphs" textLength="11.7">0.00</text>
<text x="90.10" y="197.10" font-size="6.80" fill="#505050" text-anchor="middle" lengthAdjust="spacingAndGlyphs" textLength="11.7">5.00</text>
<text x="155.20" y="197.10" font-size="6.80" fill="#505050" text-anchor="middle" lengthAdjust="spacingAndGlyphs" textLength="14.5">10.00</text>
<text x="220.30" y="197.10" font-size="6.80" fill="#505050" text-anchor="middle" lengthAdjust="spacingAndGlyphs" textLength="14.5">15.00</text>
<text x="285.40" y="197.10" font-size="6.80" fill="#505050" text-anchor="middle" lengthAdjust="spacingAndGlyphs" textLength="14.5">20.00</text>
<text x="350.50" y="197.10" font-size="6.80" fill="#505050" text-anchor="middle" lengthAdjust="spacingAndGlyphs" textLength="14.5">25.00</text>
<text x="415.60" y="197.10" font-size="6.80" fill="#505050" text-anchor="middle" lengthAdjust="spacingAndGlyphs" textLength="14.5">30.00</text>
<text x="480.70" y="197.10" font-size="6.80" fill="#505050" text-anchor="middle" lengthAdjust="spacingAndGlyphs" textLength="14.5">35.00</text>
<text x="545.80" y="197.10" font-size="6.80" fill="#505050" text-anchor="middle" lengthAdjust="spacingAndGlyphs" textLength="14.5">40.00</text>
<text x="610.90" y="197.10" font-size="6.80" fill="#505050" text-anchor="middle" lengthAdjust="spacingAndGlyphs" textLength="14.5">45.00</text>
<text x="676.00" y="197.10" font-size="6.80" fill="#505050" text-anchor="middle" lengthAdjust="spacingAndGlyphs" textLength="14.5">50.00</text>
<text x="350.20" y="204.60" font-size="5.80" fill="#505050" text-anchor="middle" lengthAdjust="spacingAndGlyphs" textLength="18.6">Minutes</text>
<text transform="translate(4.50 93.00) rotate(-90)" font-size="5.80" fill="#505050" text-anchor="middle">AU</text>
<text x="607.80" y="35.70" font-size="18.00" fill="#2a2a2a" text-anchor="start" lengthAdjust="spacingAndGlyphs" textLength="59.2">280 nm</text>
<text transform="translate(79.90 96.90) rotate(-90)" font-size="7.70" fill="#141414" text-anchor="start" lengthAdjust="spacingAndGlyphs" textLength="90.6">2,3,4-Trihydroxybenzoic acid</text>
<line x1="68.90" y1="62.70" x2="70.70" y2="62.70" stroke="#5593d6" stroke-width="1.10"/>
<polygon points="74.40,62.70 70.20,65.05 70.20,60.35" fill="#5593d6"/>
<text transform="translate(86.00 136.50) rotate(-90)" font-size="7.70" fill="#141414" text-anchor="start" lengthAdjust="spacingAndGlyphs" textLength="32.4">Gallic acid</text>
<line x1="74.20" y1="128.40" x2="76.90" y2="128.40" stroke="#5593d6" stroke-width="1.10"/>
<polygon points="80.60,128.40 76.40,130.75 76.40,126.05" fill="#5593d6"/>
<text transform="translate(231.90 175.40) rotate(-90)" font-size="7.70" fill="#141414" text-anchor="start" lengthAdjust="spacingAndGlyphs" textLength="70.6">4-hydroxybenzoic acid</text>
<line x1="171.10" y1="167.80" x2="216.56" y2="159.19" stroke="#5593d6" stroke-width="1.10"/>
<polygon points="220.20,158.50 216.51,161.59 215.64,156.97" fill="#5593d6"/>
<text transform="translate(361.20 169.30) rotate(-90)" font-size="7.70" fill="#141414" text-anchor="start" lengthAdjust="spacingAndGlyphs" textLength="34.5">Ellagic acid</text>
<line x1="344.90" y1="170.90" x2="351.86" y2="166.56" stroke="#5593d6" stroke-width="1.10"/>
<polygon points="355.00,164.60 352.68,168.82 350.19,164.83" fill="#5593d6"/>
<text transform="translate(489.00 169.90) rotate(-90)" font-size="7.70" fill="#141414" text-anchor="start" lengthAdjust="spacingAndGlyphs" textLength="48.0">t-cinnamic acid</text>
<line x1="468.40" y1="173.00" x2="473.73" y2="168.64" stroke="#5593d6" stroke-width="1.10"/>
<polygon points="476.60,166.30 474.83,170.78 471.86,167.14" fill="#5593d6"/>
<text x="110.30" y="42.70" font-size="3.90" fill="#222" text-anchor="end">1.00</text>
<text x="110.30" y="62.90" font-size="3.90" fill="#222" text-anchor="end">0.50</text>
<text x="110.30" y="83.40" font-size="3.90" fill="#222" text-anchor="end">0.00</text>
<text x="113.80" y="40.30" font-size="3.70" fill="#222" text-anchor="start" textLength="21.8">3.150 Peak 2</text>
<text x="154.60" y="56.60" font-size="5.40" fill="#3333ff" text-anchor="middle" lengthAdjust="spacingAndGlyphs" textLength="11.4">258.8</text>
<text transform="translate(95.80 62.00) rotate(-90)" font-size="3.60" fill="#444" text-anchor="middle">AU</text>
<text x="110.30" y="97.40" font-size="3.90" fill="#222" text-anchor="end">0.020</text>
<text x="110.30" y="116.40" font-size="3.90" fill="#222" text-anchor="end">0.010</text>
<text x="110.30" y="135.70" font-size="3.90" fill="#222" text-anchor="end">0.000</text>
<text x="113.80" y="92.30" font-size="3.70" fill="#222" text-anchor="start" textLength="21.6">3.450 Peak 3</text>
<text x="175.60" y="128.70" font-size="5.40" fill="#28a428" text-anchor="middle" lengthAdjust="spacingAndGlyphs" textLength="11.5">281.7</text>
<text x="213.90" y="131.20" font-size="5.40" fill="#28a428" text-anchor="middle" lengthAdjust="spacingAndGlyphs" textLength="11.0">323.6</text>
<text transform="translate(95.80 114.50) rotate(-90)" font-size="3.60" fill="#444" text-anchor="middle">AU</text>
<text x="240.30" y="128.90" font-size="3.90" fill="#222" text-anchor="end">0.05</text>
<text x="240.30" y="162.60" font-size="3.90" fill="#222" text-anchor="end">0.00</text>
<text x="243.80" y="116.30" font-size="3.70" fill="#222" text-anchor="start" textLength="22.3">11.000 Peak 15</text>
<text x="273.80" y="121.30" font-size="5.40" fill="#2c2c9c" text-anchor="middle" lengthAdjust="spacingAndGlyphs" textLength="9.8">254.4</text>
<text transform="translate(226.40 142.50) rotate(-90)" font-size="3.60" fill="#444" text-anchor="middle">AU</text>
<text x="378.30" y="139.80" font-size="3.40" fill="#222" text-anchor="end">0.05</text>
<text x="378.30" y="165.50" font-size="3.40" fill="#222" text-anchor="end">0.00</text>
<text x="381.80" y="116.30" font-size="3.70" fill="#222" text-anchor="start" textLength="19.6">26.450 Peak 21</text>
<text x="408.50" y="120.70" font-size="5.40" fill="#ff1cff" text-anchor="middle" lengthAdjust="spacingAndGlyphs" textLength="8.4">361.1</text>
<text transform="translate(367.60 143.20) rotate(-90)" font-size="3.60" fill="#444" text-anchor="middle">AU</text>
<text x="512.30" y="132.90" font-size="3.90" fill="#222" text-anchor="end">0.002</text>
<text x="512.30" y="160.70" font-size="3.90" fill="#222" text-anchor="end">0.000</text>
<text x="515.80" y="117.30" font-size="3.70" fill="#222" text-anchor="start" textLength="25.2">34.215 Peak 28</text>
<text x="525.00" y="147.20" font-size="5.40" fill="#962a9e" text-anchor="middle" lengthAdjust="spacingAndGlyphs" textLength="11.7">222.5</text>
<text x="567.00" y="121.70" font-size="5.40" fill="#962a9e" text-anchor="middle" lengthAdjust="spacingAndGlyphs" textLength="10.7">276.4</text>
<text x="626.00" y="156.90" font-size="5.40" fill="#962a9e" text-anchor="middle" lengthAdjust="spacingAndGlyphs" textLength="10.2">364.4</text>
<text transform="translate(496.00 140.00) rotate(-90)" font-size="3.60" fill="#444" text-anchor="middle">AU</text>
<text x="546.40" y="167.80" font-size="3.60" fill="#333" text-anchor="middle">250.00</text>
<text x="584.25" y="167.80" font-size="3.60" fill="#333" text-anchor="middle">300.00</text>
<text x="622.10" y="167.80" font-size="3.60" fill="#333" text-anchor="middle">350.00</text>
<text x="25.00" y="402.20" font-size="7.00" fill="#505050" text-anchor="end" lengthAdjust="spacingAndGlyphs" textLength="15.2">0.000</text>
<text x="25.00" y="359.67" font-size="7.00" fill="#505050" text-anchor="end" lengthAdjust="spacingAndGlyphs" textLength="15.2">0.002</text>
<text x="25.00" y="317.15" font-size="7.00" fill="#505050" text-anchor="end" lengthAdjust="spacingAndGlyphs" textLength="15.2">0.004</text>
<text x="25.00" y="274.62" font-size="7.00" fill="#505050" text-anchor="end" lengthAdjust="spacingAndGlyphs" textLength="15.2">0.006</text>
<text x="25.00" y="232.10" font-size="7.00" fill="#505050" text-anchor="end" lengthAdjust="spacingAndGlyphs" textLength="15.2">0.008</text>
<text x="29.00" y="428.40" font-size="6.80" fill="#505050" text-anchor="middle" lengthAdjust="spacingAndGlyphs" textLength="11.7">0.00</text>
<text x="93.90" y="428.40" font-size="6.80" fill="#505050" text-anchor="middle" lengthAdjust="spacingAndGlyphs" textLength="11.7">5.00</text>
<text x="158.80" y="428.40" font-size="6.80" fill="#505050" text-anchor="middle" lengthAdjust="spacingAndGlyphs" textLength="14.5">10.00</text>
<text x="223.70" y="428.40" font-size="6.80" fill="#505050" text-anchor="middle" lengthAdjust="spacingAndGlyphs" textLength="14.5">15.00</text>
<text x="288.60" y="428.40" font-size="6.80" fill="#505050" text-anchor="middle" lengthAdjust="spacingAndGlyphs" textLength="14.5">20.00</text>
<text x="353.50" y="428.40" font-size="6.80" fill="#505050" text-anchor="middle" lengthAdjust="spacingAndGlyphs" textLength="14.5">25.00</text>
<text x="418.40" y="428.40" font-size="6.80" fill="#505050" text-anchor="middle" lengthAdjust="spacingAndGlyphs" textLength="14.5">30.00</text>
<text x="483.30" y="428.40" font-size="6.80" fill="#505050" text-anchor="middle" lengthAdjust="spacingAndGlyphs" textLength="14.5">35.00</text>
<text x="548.20" y="428.40" font-size="6.80" fill="#505050" text-anchor="middle" lengthAdjust="spacingAndGlyphs" textLength="14.5">40.00</text>
<text x="613.10" y="428.40" font-size="6.80" fill="#505050" text-anchor="middle" lengthAdjust="spacingAndGlyphs" textLength="14.5">45.00</text>
<text x="678.00" y="428.40" font-size="6.80" fill="#505050" text-anchor="middle" lengthAdjust="spacingAndGlyphs" textLength="14.5">50.00</text>
<text x="353.20" y="436.00" font-size="5.80" fill="#505050" text-anchor="middle" lengthAdjust="spacingAndGlyphs" textLength="18.6">Minutes</text>
<text transform="translate(4.50 321.00) rotate(-90)" font-size="5.80" fill="#505050" text-anchor="middle">AU</text>
<text x="607.80" y="262.60" font-size="18.00" fill="#2a2a2a" text-anchor="start" lengthAdjust="spacingAndGlyphs" textLength="59.2">312 nm</text>
<text transform="translate(104.90 348.80) rotate(-90)" font-size="7.70" fill="#141414" text-anchor="start" lengthAdjust="spacingAndGlyphs" textLength="36.8">Caffeic acid</text>
<line x1="84.50" y1="342.40" x2="93.67" y2="339.51" stroke="#5593d6" stroke-width="1.10"/>
<polygon points="97.20,338.40 93.90,341.90 92.49,337.42" fill="#5593d6"/>
<text transform="translate(287.30 298.60) rotate(-90)" font-size="8.00" fill="#141414" text-anchor="start" lengthAdjust="spacingAndGlyphs" textLength="49.8">p-coumaric acid</text>
<line x1="277.40" y1="306.80" x2="281.92" y2="302.84" stroke="#5593d6" stroke-width="1.10"/>
<polygon points="284.70,300.40 283.09,304.94 279.99,301.40" fill="#5593d6"/>
<text x="115.30" y="333.90" font-size="3.10" fill="#222" text-anchor="end">0.00</text>
<text x="115.30" y="354.20" font-size="3.10" fill="#222" text-anchor="end">-0.01</text>
<text x="118.80" y="314.30" font-size="3.70" fill="#222" text-anchor="start" textLength="13.0">20.35 Pk 3</text>
<text x="133.20" y="317.00" font-size="5.40" fill="#ff1cff" text-anchor="middle" lengthAdjust="spacingAndGlyphs" textLength="7.4">299.4</text>
<text x="164.50" y="321.10" font-size="5.40" fill="#ff1cff" text-anchor="middle" lengthAdjust="spacingAndGlyphs" textLength="6.8">324</text>
<text x="229.20" y="330.10" font-size="5.40" fill="#ff1cff" text-anchor="middle" lengthAdjust="spacingAndGlyphs" textLength="19.4">402.4 51.5</text>
<text transform="translate(109.20 334.50) rotate(-90)" font-size="3.60" fill="#444" text-anchor="middle">AU</text>
<text x="310.30" y="267.00" font-size="3.90" fill="#222" text-anchor="end">0.005</text>
<text x="310.30" y="289.30" font-size="3.90" fill="#222" text-anchor="end">0.000</text>
<text x="313.80" y="249.30" font-size="3.70" fill="#222" text-anchor="start" textLength="22.1">18.650 Peak 7</text>
<text x="326.80" y="276.70" font-size="5.40" fill="#2c2c9c" text-anchor="middle" lengthAdjust="spacingAndGlyphs" textLength="10.6">230.7</text>
<text x="378.90" y="254.30" font-size="5.40" fill="#2c2c9c" text-anchor="middle" lengthAdjust="spacingAndGlyphs" textLength="10.6">310.1</text>
<text transform="translate(294.20 270.00) rotate(-90)" font-size="3.60" fill="#444" text-anchor="middle">AU</text>
<text x="339.40" y="297.60" font-size="3.60" fill="#333" text-anchor="middle">250.00</text>
<text x="373.10" y="297.60" font-size="3.60" fill="#333" text-anchor="middle">300.00</text>
<text x="406.80" y="297.60" font-size="3.60" fill="#333" text-anchor="middle">350.00</text>
</g></svg>
</body></html>
